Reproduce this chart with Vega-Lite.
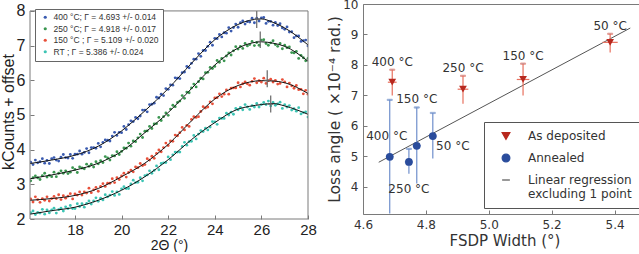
{
  "$schema": "https://vega.github.io/schema/vega-lite/v6.json",
  "background": "white",
  "padding": {"left": 0, "top": -3, "right": 0, "bottom": 0},
  "spacing": 10,
  "resolve": {
    "scale": {"color": "independent", "shape": "independent", "stroke": "independent", "x": "independent", "y": "independent"},
    "legend": {"color": "independent", "shape": "independent"}
  },
  "config": {
    "view": {"stroke": "#7a7a7a"},
    "axis": {"grid": false, "domain": false, "tickColor": "#7a7a7a", "titleFontWeight": "normal", "labelOverlap": false, "labelFlush": false}
  },
  "datasets": {
    "dots": [
      {"s":"400","x":16.1,"y":3.64},{"s":"400","x":16.2,"y":3.57},{"s":"400","x":16.3,"y":3.70},{"s":"400","x":16.4,"y":3.62},{"s":"400","x":16.5,"y":3.65},{"s":"400","x":16.6,"y":3.74},{"s":"400","x":16.7,"y":3.61},{"s":"400","x":16.8,"y":3.69},{"s":"400","x":16.9,"y":3.60},{"s":"400","x":17.0,"y":3.74},
      {"s":"400","x":17.1,"y":3.77},{"s":"400","x":17.2,"y":3.70},{"s":"400","x":17.3,"y":3.67},{"s":"400","x":17.4,"y":3.78},{"s":"400","x":17.5,"y":3.86},{"s":"400","x":17.6,"y":3.77},{"s":"400","x":17.7,"y":3.76},{"s":"400","x":17.8,"y":3.86},{"s":"400","x":17.9,"y":3.75},{"s":"400","x":18.0,"y":3.87},
      {"s":"400","x":18.1,"y":3.87},{"s":"400","x":18.2,"y":3.96},{"s":"400","x":18.3,"y":3.87},{"s":"400","x":18.4,"y":3.92},{"s":"400","x":18.5,"y":4.03},{"s":"400","x":18.6,"y":3.91},{"s":"400","x":18.7,"y":4.06},{"s":"400","x":18.8,"y":4.06},{"s":"400","x":18.9,"y":4.04},{"s":"400","x":19.0,"y":4.18},
      {"s":"400","x":19.1,"y":4.08},{"s":"400","x":19.2,"y":4.21},{"s":"400","x":19.3,"y":4.28},{"s":"400","x":19.4,"y":4.27},{"s":"400","x":19.5,"y":4.25},{"s":"400","x":19.6,"y":4.39},{"s":"400","x":19.7,"y":4.50},{"s":"400","x":19.8,"y":4.41},{"s":"400","x":19.9,"y":4.50},{"s":"400","x":20.0,"y":4.49},
      {"s":"400","x":20.1,"y":4.67},{"s":"400","x":20.2,"y":4.58},{"s":"400","x":20.3,"y":4.72},{"s":"400","x":20.4,"y":4.83},{"s":"400","x":20.5,"y":4.81},{"s":"400","x":20.6,"y":4.93},{"s":"400","x":20.7,"y":4.89},{"s":"400","x":20.8,"y":4.97},{"s":"400","x":20.9,"y":5.14},{"s":"400","x":21.0,"y":5.14},
      {"s":"400","x":21.1,"y":5.09},{"s":"400","x":21.2,"y":5.30},{"s":"400","x":21.3,"y":5.31},{"s":"400","x":21.4,"y":5.34},{"s":"400","x":21.5,"y":5.51},{"s":"400","x":21.6,"y":5.49},{"s":"400","x":21.7,"y":5.60},{"s":"400","x":21.8,"y":5.56},{"s":"400","x":21.9,"y":5.76},{"s":"400","x":22.0,"y":5.74},
      {"s":"400","x":22.1,"y":5.87},{"s":"400","x":22.2,"y":5.86},{"s":"400","x":22.3,"y":6.07},{"s":"400","x":22.4,"y":6.06},{"s":"400","x":22.5,"y":6.05},{"s":"400","x":22.6,"y":6.22},{"s":"400","x":22.7,"y":6.24},{"s":"400","x":22.8,"y":6.40},{"s":"400","x":22.9,"y":6.36},{"s":"400","x":23.0,"y":6.49},
      {"s":"400","x":23.1,"y":6.61},{"s":"400","x":23.2,"y":6.61},{"s":"400","x":23.3,"y":6.77},{"s":"400","x":23.4,"y":6.69},{"s":"400","x":23.5,"y":6.86},{"s":"400","x":23.6,"y":6.86},{"s":"400","x":23.7,"y":6.98},{"s":"400","x":23.8,"y":7.10},{"s":"400","x":23.9,"y":7.01},{"s":"400","x":24.0,"y":7.21},
      {"s":"400","x":24.1,"y":7.20},{"s":"400","x":24.2,"y":7.32},{"s":"400","x":24.3,"y":7.25},{"s":"400","x":24.4,"y":7.37},{"s":"400","x":24.5,"y":7.36},{"s":"400","x":24.6,"y":7.52},{"s":"400","x":24.7,"y":7.42},{"s":"400","x":24.8,"y":7.52},{"s":"400","x":24.9,"y":7.62},{"s":"400","x":25.0,"y":7.53},
      {"s":"400","x":25.1,"y":7.66},{"s":"400","x":25.2,"y":7.71},{"s":"400","x":25.3,"y":7.62},{"s":"400","x":25.4,"y":7.69},{"s":"400","x":25.5,"y":7.68},{"s":"400","x":25.6,"y":7.79},{"s":"400","x":25.7,"y":7.66},{"s":"400","x":25.8,"y":7.79},{"s":"400","x":25.9,"y":7.71},{"s":"400","x":26.0,"y":7.80},
      {"s":"400","x":26.1,"y":7.81},{"s":"400","x":26.2,"y":7.64},{"s":"400","x":26.3,"y":7.70},{"s":"400","x":26.4,"y":7.70},{"s":"400","x":26.5,"y":7.59},{"s":"400","x":26.6,"y":7.67},{"s":"400","x":26.7,"y":7.58},{"s":"400","x":26.8,"y":7.63},{"s":"400","x":26.9,"y":7.51},{"s":"400","x":27.0,"y":7.47},
      {"s":"400","x":27.1,"y":7.54},{"s":"400","x":27.2,"y":7.39},{"s":"400","x":27.3,"y":7.40},{"s":"400","x":27.4,"y":7.23},{"s":"400","x":27.5,"y":7.28},{"s":"400","x":27.6,"y":7.28},{"s":"400","x":27.7,"y":7.12},{"s":"400","x":27.8,"y":7.14},{"s":"400","x":27.9,"y":7.16},{"s":"400","x":28.0,"y":6.99},

      {"s":"250","x":16.1,"y":3.10},{"s":"250","x":16.2,"y":3.19},{"s":"250","x":16.3,"y":3.24},{"s":"250","x":16.4,"y":3.19},{"s":"250","x":16.5,"y":3.14},{"s":"250","x":16.6,"y":3.25},{"s":"250","x":16.7,"y":3.32},{"s":"250","x":16.8,"y":3.21},{"s":"250","x":16.9,"y":3.26},{"s":"250","x":17.0,"y":3.22},
      {"s":"250","x":17.1,"y":3.35},{"s":"250","x":17.2,"y":3.22},{"s":"250","x":17.3,"y":3.32},{"s":"250","x":17.4,"y":3.39},{"s":"250","x":17.5,"y":3.32},{"s":"250","x":17.6,"y":3.39},{"s":"250","x":17.7,"y":3.31},{"s":"250","x":17.8,"y":3.35},{"s":"250","x":17.9,"y":3.48},{"s":"250","x":18.0,"y":3.43},
      {"s":"250","x":18.1,"y":3.34},{"s":"250","x":18.2,"y":3.50},{"s":"250","x":18.3,"y":3.47},{"s":"250","x":18.4,"y":3.45},{"s":"250","x":18.5,"y":3.58},{"s":"250","x":18.6,"y":3.52},{"s":"250","x":18.7,"y":3.58},{"s":"250","x":18.8,"y":3.50},{"s":"250","x":18.9,"y":3.65},{"s":"250","x":19.0,"y":3.59},
      {"s":"250","x":19.1,"y":3.68},{"s":"250","x":19.2,"y":3.63},{"s":"250","x":19.3,"y":3.80},{"s":"250","x":19.4,"y":3.76},{"s":"250","x":19.5,"y":3.70},{"s":"250","x":19.6,"y":3.83},{"s":"250","x":19.7,"y":3.82},{"s":"250","x":19.8,"y":3.94},{"s":"250","x":19.9,"y":3.86},{"s":"250","x":20.0,"y":3.95},
      {"s":"250","x":20.1,"y":4.05},{"s":"250","x":20.2,"y":4.04},{"s":"250","x":20.3,"y":4.19},{"s":"250","x":20.4,"y":4.10},{"s":"250","x":20.5,"y":4.25},{"s":"250","x":20.6,"y":4.23},{"s":"250","x":20.7,"y":4.34},{"s":"250","x":20.8,"y":4.45},{"s":"250","x":20.9,"y":4.35},{"s":"250","x":21.0,"y":4.53},
      {"s":"250","x":21.1,"y":4.54},{"s":"250","x":21.2,"y":4.67},{"s":"250","x":21.3,"y":4.61},{"s":"250","x":21.4,"y":4.74},{"s":"250","x":21.5,"y":4.75},{"s":"250","x":21.6,"y":4.93},{"s":"250","x":21.7,"y":4.84},{"s":"250","x":21.8,"y":4.95},{"s":"250","x":21.9,"y":5.06},{"s":"250","x":22.0,"y":4.99},
      {"s":"250","x":22.1,"y":5.17},{"s":"250","x":22.2,"y":5.28},{"s":"250","x":22.3,"y":5.24},{"s":"250","x":22.4,"y":5.36},{"s":"250","x":22.5,"y":5.40},{"s":"250","x":22.6,"y":5.56},{"s":"250","x":22.7,"y":5.48},{"s":"250","x":22.8,"y":5.66},{"s":"250","x":22.9,"y":5.64},{"s":"250","x":23.0,"y":5.78},
      {"s":"250","x":23.1,"y":5.89},{"s":"250","x":23.2,"y":5.81},{"s":"250","x":23.3,"y":5.96},{"s":"250","x":23.4,"y":6.06},{"s":"250","x":23.5,"y":6.04},{"s":"250","x":23.6,"y":6.22},{"s":"250","x":23.7,"y":6.23},{"s":"250","x":23.8,"y":6.37},{"s":"250","x":23.9,"y":6.34},{"s":"250","x":24.0,"y":6.40},
      {"s":"250","x":24.1,"y":6.57},{"s":"250","x":24.2,"y":6.52},{"s":"250","x":24.3,"y":6.63},{"s":"250","x":24.4,"y":6.56},{"s":"250","x":24.5,"y":6.70},{"s":"250","x":24.6,"y":6.79},{"s":"250","x":24.7,"y":6.73},{"s":"250","x":24.8,"y":6.85},{"s":"250","x":24.9,"y":6.97},{"s":"250","x":25.0,"y":6.90},
      {"s":"250","x":25.1,"y":6.98},{"s":"250","x":25.2,"y":6.92},{"s":"250","x":25.3,"y":7.06},{"s":"250","x":25.4,"y":6.99},{"s":"250","x":25.5,"y":7.03},{"s":"250","x":25.6,"y":7.12},{"s":"250","x":25.7,"y":7.00},{"s":"250","x":25.8,"y":7.09},{"s":"250","x":25.9,"y":7.01},{"s":"250","x":26.0,"y":7.16},
      {"s":"250","x":26.1,"y":7.17},{"s":"250","x":26.2,"y":7.06},{"s":"250","x":26.3,"y":7.01},{"s":"250","x":26.4,"y":7.08},{"s":"250","x":26.5,"y":7.14},{"s":"250","x":26.6,"y":7.03},{"s":"250","x":26.7,"y":6.98},{"s":"250","x":26.8,"y":7.06},{"s":"250","x":26.9,"y":6.91},{"s":"250","x":27.0,"y":7.01},
      {"s":"250","x":27.1,"y":6.94},{"s":"250","x":27.2,"y":6.96},{"s":"250","x":27.3,"y":6.80},{"s":"250","x":27.4,"y":6.79},{"s":"250","x":27.5,"y":6.83},{"s":"250","x":27.6,"y":6.63},{"s":"250","x":27.7,"y":6.72},{"s":"250","x":27.8,"y":6.65},{"s":"250","x":27.9,"y":6.56},{"s":"250","x":28.0,"y":6.63},

      {"s":"150","x":16.1,"y":2.58},{"s":"150","x":16.2,"y":2.49},{"s":"150","x":16.3,"y":2.64},{"s":"150","x":16.4,"y":2.56},{"s":"150","x":16.5,"y":2.48},{"s":"150","x":16.6,"y":2.59},{"s":"150","x":16.7,"y":2.54},{"s":"150","x":16.8,"y":2.64},{"s":"150","x":16.9,"y":2.52},{"s":"150","x":17.0,"y":2.59},
      {"s":"150","x":17.1,"y":2.65},{"s":"150","x":17.2,"y":2.59},{"s":"150","x":17.3,"y":2.70},{"s":"150","x":17.4,"y":2.56},{"s":"150","x":17.5,"y":2.67},{"s":"150","x":17.6,"y":2.60},{"s":"150","x":17.7,"y":2.66},{"s":"150","x":17.8,"y":2.73},{"s":"150","x":17.9,"y":2.58},{"s":"150","x":18.0,"y":2.72},
      {"s":"150","x":18.1,"y":2.69},{"s":"150","x":18.2,"y":2.78},{"s":"150","x":18.3,"y":2.69},{"s":"150","x":18.4,"y":2.78},{"s":"150","x":18.5,"y":2.75},{"s":"150","x":18.6,"y":2.89},{"s":"150","x":18.7,"y":2.76},{"s":"150","x":18.8,"y":2.84},{"s":"150","x":18.9,"y":2.91},{"s":"150","x":19.0,"y":2.80},
      {"s":"150","x":19.1,"y":2.94},{"s":"150","x":19.2,"y":3.02},{"s":"150","x":19.3,"y":2.94},{"s":"150","x":19.4,"y":3.03},{"s":"150","x":19.5,"y":3.03},{"s":"150","x":19.6,"y":3.16},{"s":"150","x":19.7,"y":3.05},{"s":"150","x":19.8,"y":3.19},{"s":"150","x":19.9,"y":3.14},{"s":"150","x":20.0,"y":3.24},
      {"s":"150","x":20.1,"y":3.32},{"s":"150","x":20.2,"y":3.21},{"s":"150","x":20.3,"y":3.34},{"s":"150","x":20.4,"y":3.41},{"s":"150","x":20.5,"y":3.36},{"s":"150","x":20.6,"y":3.50},{"s":"150","x":20.7,"y":3.48},{"s":"150","x":20.8,"y":3.60},{"s":"150","x":20.9,"y":3.54},{"s":"150","x":21.0,"y":3.57},
      {"s":"150","x":21.1,"y":3.74},{"s":"150","x":21.2,"y":3.70},{"s":"150","x":21.3,"y":3.81},{"s":"150","x":21.4,"y":3.75},{"s":"150","x":21.5,"y":3.89},{"s":"150","x":21.6,"y":3.99},{"s":"150","x":21.7,"y":3.94},{"s":"150","x":21.8,"y":4.06},{"s":"150","x":21.9,"y":4.19},{"s":"150","x":22.0,"y":4.12},
      {"s":"150","x":22.1,"y":4.25},{"s":"150","x":22.2,"y":4.24},{"s":"150","x":22.3,"y":4.42},{"s":"150","x":22.4,"y":4.40},{"s":"150","x":22.5,"y":4.49},{"s":"150","x":22.6,"y":4.64},{"s":"150","x":22.7,"y":4.57},{"s":"150","x":22.8,"y":4.70},{"s":"150","x":22.9,"y":4.67},{"s":"150","x":23.0,"y":4.87},
      {"s":"150","x":23.1,"y":4.95},{"s":"150","x":23.2,"y":4.93},{"s":"150","x":23.3,"y":4.95},{"s":"150","x":23.4,"y":5.10},{"s":"150","x":23.5,"y":5.24},{"s":"150","x":23.6,"y":5.20},{"s":"150","x":23.7,"y":5.23},{"s":"150","x":23.8,"y":5.38},{"s":"150","x":23.9,"y":5.32},{"s":"150","x":24.0,"y":5.49},
      {"s":"150","x":24.1,"y":5.50},{"s":"150","x":24.2,"y":5.61},{"s":"150","x":24.3,"y":5.53},{"s":"150","x":24.4,"y":5.60},{"s":"150","x":24.5,"y":5.72},{"s":"150","x":24.6,"y":5.60},{"s":"150","x":24.7,"y":5.77},{"s":"150","x":24.8,"y":5.78},{"s":"150","x":24.9,"y":5.78},{"s":"150","x":25.0,"y":5.93},
      {"s":"150","x":25.1,"y":5.81},{"s":"150","x":25.2,"y":5.90},{"s":"150","x":25.3,"y":5.95},{"s":"150","x":25.4,"y":5.90},{"s":"150","x":25.5,"y":5.86},{"s":"150","x":25.6,"y":5.97},{"s":"150","x":25.7,"y":6.05},{"s":"150","x":25.8,"y":5.93},{"s":"150","x":25.9,"y":5.99},{"s":"150","x":26.0,"y":5.95},
      {"s":"150","x":26.1,"y":6.06},{"s":"150","x":26.2,"y":5.91},{"s":"150","x":26.3,"y":5.99},{"s":"150","x":26.4,"y":6.03},{"s":"150","x":26.5,"y":5.95},{"s":"150","x":26.6,"y":6.00},{"s":"150","x":26.7,"y":5.89},{"s":"150","x":26.8,"y":5.91},{"s":"150","x":26.9,"y":6.02},{"s":"150","x":27.0,"y":5.95},
      {"s":"150","x":27.1,"y":5.81},{"s":"150","x":27.2,"y":5.92},{"s":"150","x":27.3,"y":5.84},{"s":"150","x":27.4,"y":5.77},{"s":"150","x":27.5,"y":5.85},{"s":"150","x":27.6,"y":5.73},{"s":"150","x":27.7,"y":5.74},{"s":"150","x":27.8,"y":5.61},{"s":"150","x":27.9,"y":5.71},{"s":"150","x":28.0,"y":5.60},

      {"s":"RT","x":16.1,"y":2.18},{"s":"RT","x":16.2,"y":2.23},{"s":"RT","x":16.3,"y":2.13},{"s":"RT","x":16.4,"y":2.19},{"s":"RT","x":16.5,"y":2.17},{"s":"RT","x":16.6,"y":2.28},{"s":"RT","x":16.7,"y":2.14},{"s":"RT","x":16.8,"y":2.26},{"s":"RT","x":16.9,"y":2.18},{"s":"RT","x":17.0,"y":2.26},
      {"s":"RT","x":17.1,"y":2.31},{"s":"RT","x":17.2,"y":2.17},{"s":"RT","x":17.3,"y":2.27},{"s":"RT","x":17.4,"y":2.31},{"s":"RT","x":17.5,"y":2.23},{"s":"RT","x":17.6,"y":2.35},{"s":"RT","x":17.7,"y":2.30},{"s":"RT","x":17.8,"y":2.39},{"s":"RT","x":17.9,"y":2.30},{"s":"RT","x":18.0,"y":2.30},
      {"s":"RT","x":18.1,"y":2.44},{"s":"RT","x":18.2,"y":2.36},{"s":"RT","x":18.3,"y":2.44},{"s":"RT","x":18.4,"y":2.34},{"s":"RT","x":18.5,"y":2.45},{"s":"RT","x":18.6,"y":2.52},{"s":"RT","x":18.7,"y":2.43},{"s":"RT","x":18.8,"y":2.52},{"s":"RT","x":18.9,"y":2.61},{"s":"RT","x":19.0,"y":2.51},
      {"s":"RT","x":19.1,"y":2.60},{"s":"RT","x":19.2,"y":2.55},{"s":"RT","x":19.3,"y":2.70},{"s":"RT","x":19.4,"y":2.64},{"s":"RT","x":19.5,"y":2.69},{"s":"RT","x":19.6,"y":2.79},{"s":"RT","x":19.7,"y":2.68},{"s":"RT","x":19.8,"y":2.78},{"s":"RT","x":19.9,"y":2.71},{"s":"RT","x":20.0,"y":2.87},
      {"s":"RT","x":20.1,"y":2.93},{"s":"RT","x":20.2,"y":2.88},{"s":"RT","x":20.3,"y":2.88},{"s":"RT","x":20.4,"y":3.01},{"s":"RT","x":20.5,"y":3.12},{"s":"RT","x":20.6,"y":3.05},{"s":"RT","x":20.7,"y":3.06},{"s":"RT","x":20.8,"y":3.19},{"s":"RT","x":20.9,"y":3.10},{"s":"RT","x":21.0,"y":3.25},
      {"s":"RT","x":21.1,"y":3.27},{"s":"RT","x":21.2,"y":3.39},{"s":"RT","x":21.3,"y":3.32},{"s":"RT","x":21.4,"y":3.40},{"s":"RT","x":21.5,"y":3.53},{"s":"RT","x":21.6,"y":3.42},{"s":"RT","x":21.7,"y":3.60},{"s":"RT","x":21.8,"y":3.62},{"s":"RT","x":21.9,"y":3.63},{"s":"RT","x":22.0,"y":3.79},
      {"s":"RT","x":22.1,"y":3.71},{"s":"RT","x":22.2,"y":3.85},{"s":"RT","x":22.3,"y":3.93},{"s":"RT","x":22.4,"y":3.93},{"s":"RT","x":22.5,"y":3.93},{"s":"RT","x":22.6,"y":4.09},{"s":"RT","x":22.7,"y":4.21},{"s":"RT","x":22.8,"y":4.13},{"s":"RT","x":22.9,"y":4.23},{"s":"RT","x":23.0,"y":4.24},
      {"s":"RT","x":23.1,"y":4.41},{"s":"RT","x":23.2,"y":4.31},{"s":"RT","x":23.3,"y":4.45},{"s":"RT","x":23.4,"y":4.55},{"s":"RT","x":23.5,"y":4.52},{"s":"RT","x":23.6,"y":4.62},{"s":"RT","x":23.7,"y":4.57},{"s":"RT","x":23.8,"y":4.65},{"s":"RT","x":23.9,"y":4.81},{"s":"RT","x":24.0,"y":4.80},
      {"s":"RT","x":24.1,"y":4.73},{"s":"RT","x":24.2,"y":4.91},{"s":"RT","x":24.3,"y":4.90},{"s":"RT","x":24.4,"y":4.90},{"s":"RT","x":24.5,"y":5.05},{"s":"RT","x":24.6,"y":5.00},{"s":"RT","x":24.7,"y":5.08},{"s":"RT","x":24.8,"y":5.02},{"s":"RT","x":24.9,"y":5.19},{"s":"RT","x":25.0,"y":5.15},
      {"s":"RT","x":25.1,"y":5.22},{"s":"RT","x":25.2,"y":5.15},{"s":"RT","x":25.3,"y":5.30},{"s":"RT","x":25.4,"y":5.23},{"s":"RT","x":25.5,"y":5.16},{"s":"RT","x":25.6,"y":5.27},{"s":"RT","x":25.7,"y":5.23},{"s":"RT","x":25.8,"y":5.33},{"s":"RT","x":25.9,"y":5.23},{"s":"RT","x":26.0,"y":5.30},
      {"s":"RT","x":26.1,"y":5.36},{"s":"RT","x":26.2,"y":5.30},{"s":"RT","x":26.3,"y":5.40},{"s":"RT","x":26.4,"y":5.26},{"s":"RT","x":26.5,"y":5.36},{"s":"RT","x":26.6,"y":5.28},{"s":"RT","x":26.7,"y":5.32},{"s":"RT","x":26.8,"y":5.37},{"s":"RT","x":26.9,"y":5.19},{"s":"RT","x":27.0,"y":5.30},
      {"s":"RT","x":27.1,"y":5.23},{"s":"RT","x":27.2,"y":5.27},{"s":"RT","x":27.3,"y":5.14},{"s":"RT","x":27.4,"y":5.18},{"s":"RT","x":27.5,"y":5.11},{"s":"RT","x":27.6,"y":5.21},{"s":"RT","x":27.7,"y":5.03},{"s":"RT","x":27.8,"y":5.07},{"s":"RT","x":27.9,"y":5.09},{"s":"RT","x":28.0,"y":4.94}
    ],
    "fits": [
      {"s":"400","x":16.07,"f":3.60},{"s":"400","x":17,"f":3.70},{"s":"400","x":18,"f":3.84},{"s":"400","x":19,"f":4.10},{"s":"400","x":20,"f":4.54},{"s":"400","x":21,"f":5.12},{"s":"400","x":22,"f":5.76},{"s":"400","x":23,"f":6.49},{"s":"400","x":24,"f":7.17},{"s":"400","x":25,"f":7.61},{"s":"400","x":25.5,"f":7.73},{"s":"400","x":26,"f":7.77},{"s":"400","x":26.5,"f":7.67},{"s":"400","x":27,"f":7.51},{"s":"400","x":28,"f":7.02},
      {"s":"250","x":16.07,"f":3.16},{"s":"250","x":17,"f":3.27},{"s":"250","x":18,"f":3.41},{"s":"250","x":19,"f":3.61},{"s":"250","x":20,"f":3.95},{"s":"250","x":21,"f":4.49},{"s":"250","x":22,"f":5.07},{"s":"250","x":23,"f":5.76},{"s":"250","x":24,"f":6.44},{"s":"250","x":25,"f":6.93},{"s":"250","x":25.5,"f":7.06},{"s":"250","x":26,"f":7.11},{"s":"250","x":26.5,"f":7.07},{"s":"250","x":27,"f":6.98},{"s":"250","x":28,"f":6.55},
      {"s":"150","x":16.07,"f":2.54},{"s":"150","x":17,"f":2.59},{"s":"150","x":18,"f":2.68},{"s":"150","x":19,"f":2.88},{"s":"150","x":20,"f":3.22},{"s":"150","x":21,"f":3.61},{"s":"150","x":22,"f":4.15},{"s":"150","x":23,"f":4.83},{"s":"150","x":24,"f":5.46},{"s":"150","x":25,"f":5.85},{"s":"150","x":25.5,"f":5.95},{"s":"150","x":26,"f":5.99},{"s":"150","x":26.5,"f":5.98},{"s":"150","x":27,"f":5.93},{"s":"150","x":28,"f":5.62},
      {"s":"RT","x":16.07,"f":2.14},{"s":"RT","x":17,"f":2.24},{"s":"RT","x":18,"f":2.34},{"s":"RT","x":19,"f":2.54},{"s":"RT","x":20,"f":2.83},{"s":"RT","x":21,"f":3.22},{"s":"RT","x":22,"f":3.71},{"s":"RT","x":23,"f":4.29},{"s":"RT","x":24,"f":4.78},{"s":"RT","x":25,"f":5.17},{"s":"RT","x":25.5,"f":5.25},{"s":"RT","x":26,"f":5.30},{"s":"RT","x":26.5,"f":5.33},{"s":"RT","x":27,"f":5.26},{"s":"RT","x":28,"f":5.02}
    ],
    "peaks": [
      {"s":"400","x":25.8,"xlo":25.68,"xhi":25.92,"c":7.76,"lo":7.51,"hi":8.0},
      {"s":"250","x":25.95,"xlo":25.83,"xhi":26.07,"c":7.12,"lo":6.93,"hi":7.41},
      {"s":"150","x":26.25,"xlo":26.13,"xhi":26.37,"c":6.0,"lo":5.8,"hi":6.29},
      {"s":"RT","x":26.4,"xlo":26.28,"xhi":26.52,"c":5.31,"lo":5.07,"hi":5.56}
    ],
    "loss": [
      {"g":"As deposited","T":"400 °C","x":4.693,"xlo":4.679,"xhi":4.707,"y":7.43,"ylo":6.99,"yhi":7.84},
      {"g":"As deposited","T":"250 °C","x":4.918,"xlo":4.901,"xhi":4.935,"y":7.2,"ylo":6.72,"yhi":7.64},
      {"g":"As deposited","T":"150 °C","x":5.109,"xlo":5.089,"xhi":5.129,"y":7.52,"ylo":6.99,"yhi":8.04},
      {"g":"As deposited","T":"50 °C","x":5.386,"xlo":5.362,"xhi":5.41,"y":8.74,"ylo":8.41,"yhi":9.02},
      {"g":"Annealed","T":"400 °C","x":4.685,"xlo":4.673,"xhi":4.697,"y":4.98,"ylo":3.12,"yhi":6.85},
      {"g":"Annealed","T":"250 °C","x":4.746,"xlo":4.733,"xhi":4.759,"y":4.81,"ylo":4.42,"yhi":5.24},
      {"g":"Annealed","T":"150 °C","x":4.771,"xlo":4.758,"xhi":4.784,"y":5.34,"ylo":4.1,"yhi":6.6},
      {"g":"Annealed","T":"50 °C","x":4.822,"xlo":4.81,"xhi":4.834,"y":5.66,"ylo":4.92,"yhi":6.42}
    ],
    "reg": [
      {"g":"Linear regression excluding 1 point","x":4.65,"y":4.8},
      {"g":"Linear regression excluding 1 point","x":5.45,"y":9.21}
    ]
  },
  "hconcat": [
    {
      "width": 278, "height": 215,
      "view": {"stroke": null},
      "layer": [
        {
          "data": {"name": "dots"},
          "mark": {"type": "point", "filled": true, "size": 8, "opacity": 1, "clip": true},
          "encoding": {
            "x": {"field": "x", "type": "quantitative", "title": "2Θ (°)",
              "scale": {"domain": [16.07, 28], "nice": false, "zero": false},
              "axis": {"values": [18, 20, 22, 24, 26, 28], "format": "d", "tickCount": 20, "labelOverlap": false, "labelFlush": false, "labelFont": "Liberation Sans Narrow, Liberation Sans", "labelFontSize": 15, "labelColor": "#222", "titleFont": "Liberation Sans Narrow, Liberation Sans", "titleFontSize": 14, "titleColor": "#222", "tickSize": -4, "labelPadding": 7, "titlePadding": 1}},
            "y": {"field": "y", "type": "quantitative", "title": "kCounts + offset",
              "scale": {"domain": [2, 8.2], "nice": false, "zero": false},
              "axis": {"values": [2, 3, 4, 5, 6, 7, 8], "format": "d", "tickCount": 20, "labelOverlap": false, "labelFlush": false, "labelFont": "Liberation Sans Narrow, Liberation Sans", "labelFontSize": 16, "labelColor": "#222", "titleFont": "Liberation Sans Narrow, Liberation Sans", "titleFontSize": 16, "titleColor": "#222", "tickSize": -4, "labelPadding": 9, "titlePadding": 0}},
            "color": {"field": "s", "type": "nominal",
              "scale": {"domain": ["400", "250", "150", "RT"], "range": ["#3a5bb0", "#3a9650", "#e8503a", "#3cc4b4"]},
              "legend": {"title": null, "orient": "top-left", "offset": 5, "padding": 4, "rowPadding": 2.5,
                "strokeColor": "#666", "fillColor": "#ffffff", "symbolType": "circle", "symbolSize": 10, "symbolOffset": 2,
                "labelFont": "Liberation Sans", "labelFontSize": 8.5, "labelColor": "#333",
                "labelExpr": "datum.label == '400' ? '400 °C; Γ = 4.693 +/- 0.014' : datum.label == '250' ? '250 °C; Γ = 4.918 +/- 0.017' : datum.label == '150' ? '150 °C ; Γ = 5.109 +/- 0.020' : 'RT ; Γ = 5.386 +/- 0.024'"}}
          }
        },
        {
          "data": {"name": "fits"},
          "mark": {"type": "line", "interpolate": "monotone", "color": "#111111", "strokeWidth": 1, "clip": true},
          "encoding": {
            "x": {"field": "x", "type": "quantitative", "title": "2Θ (°)"},
            "y": {"field": "f", "type": "quantitative", "title": "kCounts + offset"},
            "detail": {"field": "s", "type": "nominal"}
          }
        },
        {
          "data": {"name": "peaks"},
          "mark": {"type": "rule", "color": "#666666", "strokeWidth": 1.2},
          "encoding": {
            "x": {"field": "x", "type": "quantitative", "title": "2Θ (°)"},
            "y": {"field": "lo", "type": "quantitative", "title": "kCounts + offset"},
            "y2": {"field": "hi"}
          }
        },
        {
          "data": {"name": "peaks"},
          "mark": {"type": "rule", "color": "#666666", "strokeWidth": 1.2},
          "encoding": {
            "x": {"field": "xlo", "type": "quantitative", "title": "2Θ (°)"},
            "x2": {"field": "xhi"},
            "y": {"field": "c", "type": "quantitative", "title": "kCounts + offset"}
          }
        },
        {
          "description": "Frame of the diffraction panel, drawn at the axis limits 16.07-28 and 2-8.",
          "data": {"values": [{}]},
          "mark": {"type": "rule", "color": "#7a7a7a", "strokeWidth": 1},
          "encoding": {
            "x": {"datum": 16.07, "type": "quantitative"},
            "x2": {"datum": 28},
            "y": {"datum": 8, "type": "quantitative"}
          }
        },
        {
          "data": {"values": [{}]},
          "mark": {"type": "rule", "color": "#7a7a7a", "strokeWidth": 1},
          "encoding": {
            "x": {"datum": 16.07, "type": "quantitative"},
            "x2": {"datum": 28},
            "y": {"datum": 2, "type": "quantitative"}
          }
        },
        {
          "data": {"values": [{}]},
          "mark": {"type": "rule", "color": "#7a7a7a", "strokeWidth": 1},
          "encoding": {
            "x": {"datum": 16.07, "type": "quantitative"},
            "y": {"datum": 2, "type": "quantitative"},
            "y2": {"datum": 8}
          }
        },
        {
          "data": {"values": [{}]},
          "mark": {"type": "rule", "color": "#7a7a7a", "strokeWidth": 1},
          "encoding": {
            "x": {"datum": 28, "type": "quantitative"},
            "y": {"datum": 2, "type": "quantitative"},
            "y2": {"datum": 8}
          }
        }
      ]
    },
    {
      "width": 283, "height": 210,
      "layer": [
        {
          "data": {"name": "reg"},
          "mark": {"type": "line", "strokeWidth": 1},
          "encoding": {
            "x": {"field": "x", "type": "quantitative", "title": "FSDP Width (°)",
              "scale": {"domain": [4.6, 5.5], "nice": false, "zero": false},
              "axis": {"values": [4.6, 4.8, 5.0, 5.2, 5.4], "tickCount": 20, "format": ".1f", "labelOverlap": false, "labelFlush": false, "labelFont": "DejaVu Sans", "labelFontSize": 12, "labelColor": "#333", "titleFont": "DejaVu Sans", "titleFontSize": 15, "titleColor": "#333", "tickSize": -4, "labelPadding": 9, "titlePadding": 3}},
            "y": {"field": "y", "type": "quantitative", "title": "Loss angle ( ×10⁻⁴ rad.)",
              "scale": {"domain": [3.1, 10], "nice": false, "zero": false},
              "axis": {"values": [4, 5, 6, 7, 8, 9, 10], "format": "d", "tickCount": 20, "labelOverlap": false, "labelFlush": false, "labelFont": "DejaVu Sans", "labelFontSize": 12, "labelColor": "#333", "titleFont": "DejaVu Sans", "titleFontSize": 15.5, "titleColor": "#333", "tickSize": -4, "labelPadding": 9, "titlePadding": 0}},
            "color": {"field": "g", "type": "nominal",
              "scale": {"domain": ["As deposited", "Annealed", "Linear regression excluding 1 point"], "range": ["#b8281e", "#2a4c9c", "#555555"]},
              "legend": {"title": null, "orient": "bottom-right", "offset": 6, "padding": 8, "rowPadding": 9,
                "strokeColor": "#555", "fillColor": "#ffffff", "symbolSize": 60, "symbolStrokeWidth": 1.2, "symbolOffset": 8,
                "labelFont": "DejaVu Sans", "labelFontSize": 12, "labelColor": "#333", "labelOffset": 16,
                "labelExpr": "datum.label == 'Linear regression excluding 1 point' ? ['Linear regression', 'excluding 1 point'] : datum.label",
                "encode": {"symbols": {"update": {"fill": {"scale": "color", "field": "value"}, "stroke": {"scale": "color", "field": "value"}}}}}
            }
          }
        },
        {
          "data": {"name": "loss"},
          "mark": {"type": "rule", "strokeWidth": 1.2},
          "encoding": {
            "x": {"field": "xlo", "type": "quantitative", "title": "FSDP Width (°)"},
            "x2": {"field": "xhi"},
            "y": {"field": "y", "type": "quantitative", "title": "Loss angle ( ×10⁻⁴ rad.)"},
            "stroke": {"field": "g", "type": "nominal", "scale": {"domain": ["As deposited", "Annealed"], "range": ["#e8705e", "#6f8fcc"]}, "legend": null}
          }
        },
        {
          "data": {"name": "loss"},
          "mark": {"type": "rule", "strokeWidth": 1.2, "clip": true},
          "encoding": {
            "x": {"field": "x", "type": "quantitative", "title": "FSDP Width (°)"},
            "y": {"field": "ylo", "type": "quantitative", "title": "Loss angle ( ×10⁻⁴ rad.)"},
            "y2": {"field": "yhi"},
            "stroke": {"field": "g", "type": "nominal", "legend": null}
          }
        },
        {
          "data": {"name": "loss"},
          "mark": {"type": "tick", "orient": "horizontal", "size": 5, "thickness": 1.2},
          "encoding": {
            "x": {"field": "x", "type": "quantitative", "title": "FSDP Width (°)"},
            "y": {"field": "yhi", "type": "quantitative", "title": "Loss angle ( ×10⁻⁴ rad.)"},
            "stroke": {"field": "g", "type": "nominal", "legend": null}
          }
        },
        {
          "data": {"name": "loss"},
          "mark": {"type": "point", "filled": true, "size": 60, "opacity": 1},
          "encoding": {
            "x": {"field": "x", "type": "quantitative", "title": "FSDP Width (°)"},
            "y": {"field": "y", "type": "quantitative", "title": "Loss angle ( ×10⁻⁴ rad.)"},
            "color": {"field": "g", "type": "nominal"},
            "shape": {"field": "g", "type": "nominal",
              "scale": {"domain": ["As deposited", "Annealed", "Linear regression excluding 1 point"], "range": ["triangle-down", "circle", "stroke"]}}
          }
        },
        {
          "data": {"name": "loss"},
          "transform": [{"filter": "datum.g == 'As deposited' || datum.T == '150 °C'"}],
          "mark": {"type": "text", "font": "DejaVu Sans", "fontSize": 12, "color": "#333", "baseline": "middle", "dy": -8},
          "encoding": {
            "x": {"field": "x", "type": "quantitative", "title": "FSDP Width (°)"},
            "y": {"field": "yhi", "type": "quantitative", "title": "Loss angle ( ×10⁻⁴ rad.)"},
            "text": {"field": "T"}
          }
        },
        {
          "data": {"name": "loss"},
          "transform": [{"filter": "datum.g == 'Annealed' && datum.T == '400 °C'"}],
          "mark": {"type": "text", "font": "DejaVu Sans", "fontSize": 12, "color": "#333", "baseline": "middle", "dx": -3, "dy": -21},
          "encoding": {
            "x": {"field": "x", "type": "quantitative", "title": "FSDP Width (°)"},
            "y": {"field": "y", "type": "quantitative", "title": "Loss angle ( ×10⁻⁴ rad.)"},
            "text": {"field": "T"}
          }
        },
        {
          "data": {"name": "loss"},
          "transform": [{"filter": "datum.g == 'Annealed' && datum.T == '250 °C'"}],
          "mark": {"type": "text", "font": "DejaVu Sans", "fontSize": 12, "color": "#333", "baseline": "middle", "dy": 27},
          "encoding": {
            "x": {"field": "x", "type": "quantitative", "title": "FSDP Width (°)"},
            "y": {"field": "y", "type": "quantitative", "title": "Loss angle ( ×10⁻⁴ rad.)"},
            "text": {"field": "T"}
          }
        },
        {
          "data": {"name": "loss"},
          "transform": [{"filter": "datum.g == 'Annealed' && datum.T == '50 °C'"}],
          "mark": {"type": "text", "font": "DejaVu Sans", "fontSize": 12, "color": "#333", "baseline": "middle", "dx": 20, "dy": 10},
          "encoding": {
            "x": {"field": "x", "type": "quantitative", "title": "FSDP Width (°)"},
            "y": {"field": "y", "type": "quantitative", "title": "Loss angle ( ×10⁻⁴ rad.)"},
            "text": {"field": "T"}
          }
        }
      ]
    }
  ]
}
